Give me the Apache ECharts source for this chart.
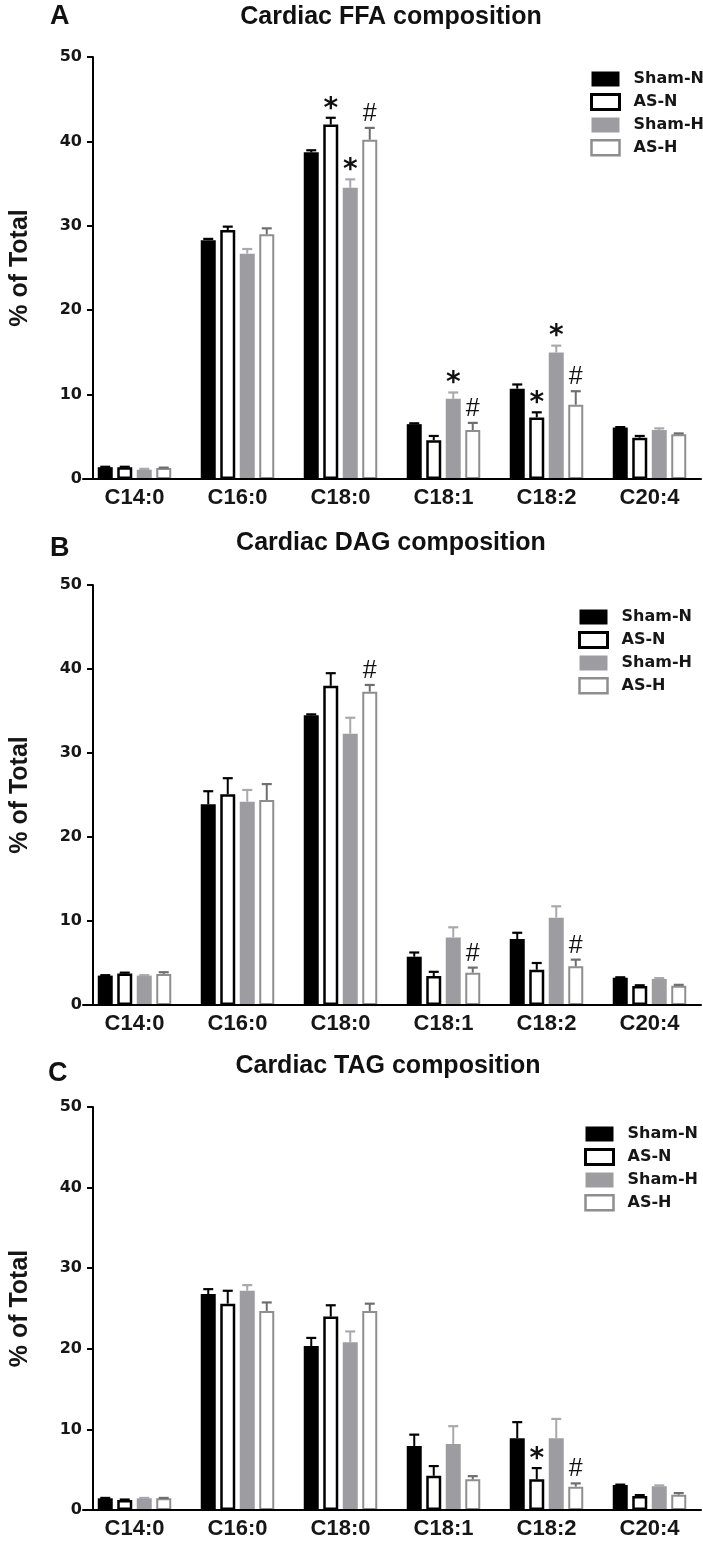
<!DOCTYPE html>
<html>
<head>
<meta charset="utf-8">
<style>html,body{margin:0;padding:0;background:#fff}#c{width:703px;height:1566px}</style>
<script src="https://cdn.jsdelivr.net/npm/echarts/dist/echarts.min.js"></script>
</head>
<body>
<div id="c"></div>
<script>
const categories = ['C14:0', 'C16:0', 'C18:0', 'C18:1', 'C18:2', 'C20:4'];
const seriesNames = ['Sham-N', 'AS-N', 'Sham-H', 'AS-H'];
const panelTitles = ['Cardiac FFA composition', 'Cardiac DAG composition', 'Cardiac TAG composition'];
const panelLetters = ['A', 'B', 'C'];
const yAxisName = '% of Total';
const yMin = 0, yMax = 50, yInterval = 10;

// Panel A: FFA
const ffaShamN = [1.4, 28.3, 38.7, 6.5, 10.7, 6.1];
const ffaAsN   = [1.4, 29.5, 42.0, 4.6, 7.3, 4.9];
const ffaShamH = [1.1, 26.7, 34.5, 9.5, 15.0, 5.8];
const ffaAsH   = [1.3, 29.0, 40.2, 5.8, 8.8, 5.3];
const ffaShamNErr = [0.05, 0.15, 0.25, 0.1, 0.5, 0.05];
const ffaAsNErr   = [0.05, 0.4, 0.8, 0.5, 0.6, 0.2];
const ffaShamHErr = [0.1, 0.55, 1.0, 0.75, 0.8, 0.2];
const ffaAsHErr   = [0.05, 0.7, 1.4, 0.85, 1.6, 0.1];
const ffaShamNMark = ['', '', '', '', '', ''];
const ffaAsNMark   = ['', '', '*', '', '*', ''];
const ffaShamHMark = ['', '', '*', '*', '*', ''];
const ffaAsHMark   = ['', '', '#', '#', '#', ''];

// Panel B: DAG
const dagShamN = [3.5, 23.9, 34.5, 5.75, 7.85, 3.25];
const dagAsN   = [3.75, 25.1, 38.0, 3.45, 4.2, 2.25];
const dagShamH = [3.5, 24.2, 32.3, 8.05, 10.4, 3.1];
const dagAsH   = [3.7, 24.4, 37.3, 3.85, 4.6, 2.3];
const dagShamNErr = [0.05, 1.55, 0.1, 0.5, 0.75, 0.05];
const dagAsNErr   = [0.1, 1.9, 1.5, 0.5, 0.8, 0.1];
const dagShamHErr = [0.05, 1.4, 1.9, 1.2, 1.35, 0.1];
const dagAsHErr   = [0.2, 1.9, 0.8, 0.6, 0.8, 0.1];
const dagShamNMark = ['', '', '', '', '', ''];
const dagAsNMark   = ['', '', '', '', '', ''];
const dagShamHMark = ['', '', '', '', '', ''];
const dagAsHMark   = ['', '', '#', '#', '#', ''];

// Panel C: TAG
const tagShamN = [1.45, 26.8, 20.35, 7.95, 8.9, 3.1];
const tagAsN   = [1.25, 25.6, 24.0, 4.25, 3.8, 1.75];
const tagShamH = [1.45, 27.2, 20.8, 8.2, 8.9, 2.95];
const tagAsH   = [1.45, 24.7, 24.7, 3.8, 2.9, 1.9];
const tagShamNErr = [0.05, 0.6, 1.0, 1.4, 2.0, 0.05];
const tagAsNErr   = [0.05, 1.6, 1.4, 1.2, 1.4, 0.1];
const tagShamHErr = [0.05, 0.7, 1.35, 2.2, 2.4, 0.1];
const tagAsHErr   = [0.05, 1.05, 0.9, 0.4, 0.4, 0.2];
const tagShamNMark = ['', '', '', '', '', ''];
const tagAsNMark   = ['', '', '', '', '*', ''];
const tagShamHMark = ['', '', '', '', '', ''];
const tagAsHMark   = ['', '', '', '', '#', ''];

const panels = [
  { values: [ffaShamN, ffaAsN, ffaShamH, ffaAsH], errors: [ffaShamNErr, ffaAsNErr, ffaShamHErr, ffaAsHErr], marks: [ffaShamNMark, ffaAsNMark, ffaShamHMark, ffaAsHMark] },
  { values: [dagShamN, dagAsN, dagShamH, dagAsH], errors: [dagShamNErr, dagAsNErr, dagShamHErr, dagAsHErr], marks: [dagShamNMark, dagAsNMark, dagShamHMark, dagAsHMark] },
  { values: [tagShamN, tagAsN, tagShamH, tagAsH], errors: [tagShamNErr, tagAsNErr, tagShamHErr, tagAsHErr], marks: [tagShamNMark, tagAsNMark, tagShamHMark, tagAsHMark] }
];

// ---- layout & style ----
const layout = [
  { top: 57, height: 422, titleX: 391, titleY: 17, letterX: 50, letterY: 17, legendLeft: 585, legendTop: 66 },
  { top: 585, height: 420, titleX: 391, titleY: 543, letterX: 50, letterY: 549, legendLeft: 573, legendTop: 604 },
  { top: 1107, height: 403, titleX: 388, titleY: 1066, letterX: 48, letterY: 1074, legendLeft: 579, legendTop: 1121 }
];
const barWidth = 15;
const barGapPx = 4.5;
const barPitch = barWidth + barGapPx;
const barStyles = [
  { color: '#000000', borderColor: '#000000', borderWidth: 0 },
  { color: '#ffffff', borderColor: '#000000', borderWidth: 2.5 },
  { color: '#9d9da1', borderColor: '#9d9da1', borderWidth: 0 },
  { color: '#ffffff', borderColor: '#8e8e8e', borderWidth: 2 }
];
const errColors = ['#000000', '#000000', '#a9a9ad', '#6e6e6e'];

function makeRender(gi, marks) {
  return function (params, api) {
    const ci = api.value(0), v = api.value(1), e = api.value(2);
    const p0 = api.coord([ci, v]);
    const p1 = api.coord([ci, v + e]);
    const x = p0[0] + (gi - 1.5) * barPitch;
    const capY = p1[1];
    const col = errColors[gi];
    const children = [
      { type: 'line', shape: { x1: x, y1: p0[1], x2: x, y2: capY }, style: { stroke: col, lineWidth: 2 } },
      { type: 'line', shape: { x1: x - 5, y1: capY, x2: x + 5, y2: capY }, style: { stroke: col, lineWidth: 2.2 } }
    ];
    const m = marks[params.dataIndex];
    if (m) {
      children.push({
        type: 'text', x: x, y: m === '*' ? capY - 8.5 : capY - 14,
        style: {
          text: m, fill: '#111',
          font: m === '*' ? 'bold 28px "DejaVu Sans"' : '25px "Liberation Sans"',
          textAlign: 'center', textVerticalAlign: 'middle'
        }
      });
    }
    return { type: 'group', children: children };
  };
}

const grids = [], xAxes = [], yAxes = [], series = [], legends = [], graphics = [];
panels.forEach(function (p, pi) {
  const L = layout[pi];
  grids.push({ left: 80, right: 2, top: L.top, height: L.height, containLabel: false });
  xAxes.push({
    type: 'category', gridIndex: pi, data: categories, z: 10,
    axisLine: { show: true, lineStyle: { color: '#000', width: 2 } },
    axisTick: { show: false },
    axisLabel: { fontFamily: 'Liberation Sans', fontWeight: 'bold', fontSize: 22, color: '#161616', margin: 8 }
  });
  yAxes.push({
    type: 'value', gridIndex: pi, min: yMin, max: yMax, interval: yInterval, offset: -10, z: 10,
    splitLine: { show: false },
    axisLine: { show: true, lineStyle: { color: '#000', width: 2 } },
    axisTick: { show: true, length: 6, lineStyle: { color: '#000', width: 2 } },
    axisLabel: { fontFamily: 'DejaVu Sans', fontWeight: 'bold', fontSize: 16, color: '#161616', margin: 11 },
    name: yAxisName, nameLocation: 'middle', nameGap: 60,
    nameTextStyle: { fontFamily: 'Liberation Sans', fontWeight: 'bold', fontSize: 25, color: '#161616' }
  });
  seriesNames.forEach(function (name, gi) {
    series.push({
      type: 'bar', name: name, xAxisIndex: pi, yAxisIndex: pi, data: p.values[gi],
      barWidth: barWidth, barGap: (barGapPx / barWidth * 100) + '%',
      itemStyle: Object.assign({}, barStyles[gi]), z: 2
    });
  });
  seriesNames.forEach(function (name, gi) {
    series.push({
      type: 'custom', name: name + ' error', xAxisIndex: pi, yAxisIndex: pi, silent: true, z: 5,
      encode: { x: 0, y: 1 },
      data: p.values[gi].map(function (v, ci) { return [ci, v, p.errors[gi][ci]]; }),
      renderItem: makeRender(gi, p.marks[gi])
    });
  });
  legends.push({
    orient: 'vertical', left: L.legendLeft, top: L.legendTop, itemWidth: 28, itemHeight: 15, itemGap: 6,
    icon: 'rect', selectedMode: false,
    textStyle: { fontFamily: 'DejaVu Sans', fontWeight: 'bold', fontSize: 16, color: '#161616', padding: [0, 0, 0, 9], lineHeight: 15 },
    data: seriesNames.map(function (n, gi) {
      return { name: n, icon: 'rect', itemStyle: Object.assign({}, barStyles[gi], { borderWidth: gi === 1 ? 3 : (gi === 3 ? 2.5 : 0) }) };
    })
  });
  graphics.push({
    type: 'text', x: L.titleX, y: L.titleY,
    style: { text: panelTitles[pi], font: 'bold 25px "Liberation Sans"', fill: '#111', textAlign: 'center', textVerticalAlign: 'middle' }
  });
  graphics.push({
    type: 'text', x: L.letterX, y: L.letterY,
    style: { text: panelLetters[pi], font: 'bold 27px "Liberation Sans"', fill: '#111', textAlign: 'left', textVerticalAlign: 'middle' }
  });
});

const chart = echarts.init(document.getElementById('c'), null, { renderer: 'canvas' });
chart.setOption({
  animation: false,
  backgroundColor: '#ffffff',
  grid: grids, xAxis: xAxes, yAxis: yAxes, series: series, legend: legends, graphic: graphics
});
</script>
</body>
</html>
